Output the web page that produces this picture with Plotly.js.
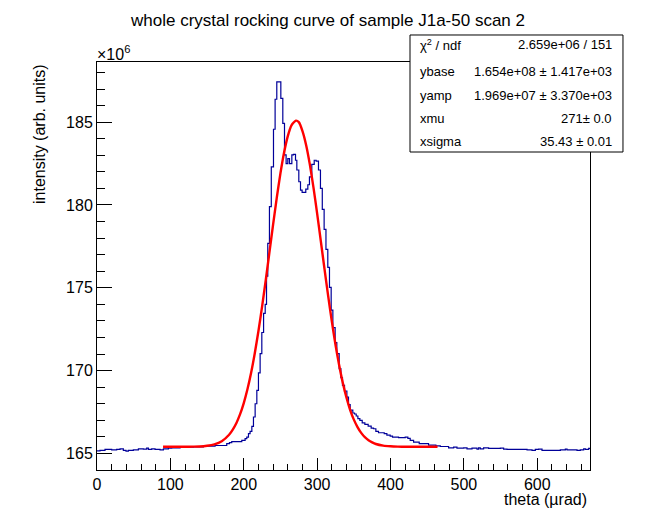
<!DOCTYPE html>
<html>
<head>
<meta charset="utf-8">
<script src="https://cdn.plot.ly/plotly-3.0.1.min.js"></script>
<style>
  body { margin: 0; background: #fff; }
  #myDiv { width: 656px; height: 522px; }
</style>
</head>
<body>
<div id="myDiv"></div>
<script>
// histogram: bin edges (theta, urad) and contents (intensity / 1e6)
var thetaEdges = [
  0, 4.1, 10.9, 20.0, 26.8, 31.4, 35.9, 39.5, 42.7, 49.5, 56.4, 63.2, 67.7, 70.0, 74.5, 79.1,
  85.9, 90.5, 97.3, 101.8, 113.2, 122.3, 131.4, 145.0, 160.9, 176.8, 180.5, 183.6, 197.3,
  201.8, 204.1, 206.4, 208.6, 211.0, 213.2, 215.5, 217.8, 220.0, 222.3, 224.6, 227.0, 229.2,
  231.0, 232.7, 235.0, 237.5, 240.5, 242.7, 245.0, 250.5, 253.2, 255.5, 257.7, 260.0, 262.3,
  265.5, 267.7, 270.5, 272.3, 275.0, 277.3, 279.5, 284.5, 287.3, 289.5, 292.7, 296.0, 298.6,
  301.8, 304.5, 307.0, 309.5, 312.0, 314.5, 316.8, 319.1, 321.4, 324.5, 326.8, 330.0, 332.3,
  334.5, 337.3, 340.5, 342.7, 345.0, 348.6, 350.9, 353.2, 355.5, 358.2, 361.4, 365.0, 369.5,
  373.6, 376.8, 380.0, 383.6, 391.4, 395.0, 399.5, 402.7, 410.9, 420.0, 423.6, 426.8, 431.4,
  439.1, 451.8, 461.8, 467.8, 479.1, 486.0, 490.5, 499.6, 504.2, 511.0, 517.8, 520.0, 522.3,
  526.8, 533.6, 549.6, 554.1, 558.7, 586.0, 592.8, 597.3, 601.8, 606.4, 631.4, 638.2, 640.5,
  654.1, 658.6, 663.2, 665.5, 670.0, 672.0
]
var intensity = [
  165.16, 165.18, 165.24, 165.22, 165.24, 165.28, 165.18, 165.14, 165.18, 165.22, 165.28, 165.26, 165.32, 165.24, 165.28, 165.24,
  165.22, 165.28, 165.32, 165.34, 165.36, 165.38, 165.40, 165.44, 165.48, 165.59, 165.65, 165.71, 165.79,
  165.89, 165.99, 166.19, 166.33, 166.63, 167.20, 168.00, 168.81, 169.86, 171.03, 172.30, 173.45, 174.00,
  175.70, 177.68, 179.90, 182.30, 184.57, 186.38, 187.43, 186.44, 184.93, 183.02, 182.50, 182.80, 182.50,
  183.02, 183.05, 182.70, 182.11, 181.40, 180.90, 180.76, 180.95, 181.22, 181.70, 182.45, 182.70, 182.65,
  182.11, 181.00, 179.73, 178.52, 177.32, 176.23, 175.02, 173.65, 172.60, 171.69, 171.03, 170.12, 169.58,
  169.11, 168.77, 168.40, 167.95, 167.62, 167.44, 167.38, 167.26, 167.10, 167.00, 166.85, 166.75, 166.65,
  166.53, 166.49, 166.33, 166.25, 166.19, 166.11, 166.05, 165.99, 165.95, 165.99, 165.91, 165.79, 165.68,
  165.59, 165.50, 165.46, 165.42, 165.34, 165.38, 165.32, 165.34, 165.28, 165.32, 165.26, 165.34, 165.28,
  165.34, 165.30, 165.32, 165.26, 165.24, 165.22, 165.18, 165.24, 165.26, 165.18, 165.22, 165.26, 165.22,
  165.18, 165.22, 165.28, 165.24, 165.30
]

// fitted gaussian (red curve), sampled points
var fitTheta = [
  90, 100, 110, 120, 130, 140, 150, 160, 170, 180, 185, 190, 195, 200, 205, 210, 215, 220, 225,
  230, 235, 240, 245, 250, 255, 260, 265, 271, 275, 280, 285, 290, 295, 300, 305, 310, 315,
  320, 325, 330, 335, 340, 345, 350, 355, 360, 365, 370, 375, 380, 390, 400, 410, 420, 440, 464
]
var fitIntensity = [
  165.40, 165.40, 165.40, 165.40, 165.41, 165.42, 165.46, 165.55, 165.74, 166.13, 166.44, 166.84, 167.37, 168.04, 168.87, 169.87, 171.05, 172.39, 173.88,
  175.48, 177.15, 178.83, 180.44, 181.92, 183.18, 184.16, 184.81, 185.09, 185.00, 184.46, 183.61, 182.45, 181.05, 179.48, 177.82, 176.14, 174.51,
  172.97, 171.56, 170.32, 169.25, 168.36, 167.62, 167.04, 166.59, 166.24, 165.98, 165.80, 165.67, 165.57, 165.47, 165.43, 165.41, 165.40, 165.40, 165.40
]

// stats box
var statNames = ['χ<sup>2</sup> / ndf', 'ybase', 'yamp', 'xmu', 'xsigma']
var statValues = ['2.659e+06 / 151', '1.654e+08 ± 1.417e+03', '1.969e+07 ± 3.370e+03', '271± 0.0', '35.43 ± 0.01']

var FONT = 'Liberation Sans, Arial, Helvetica, sans-serif'

// histogram drawn as steps: each bin left edge, plus closing right edge
var histY = intensity.concat([intensity[intensity.length - 1]])

var traces = [
  {
    x: thetaEdges, y: histY, type: 'scatter', mode: 'lines',
    line: {shape: 'hv', color: '#000099', width: 1.2},
    hoverinfo: 'skip', showlegend: false
  },
  {
    x: fitTheta, y: fitIntensity, type: 'scatter', mode: 'lines',
    line: {shape: 'spline', smoothing: 0.6, color: '#ff0000', width: 2.4},
    hoverinfo: 'skip', showlegend: false
  }
]

// stats box rows
var rowY = [1.0417, 0.9779, 0.9179, 0.8620, 0.8047]
var annotations = []
for (var i = 0; i < statNames.length; i++) {
  annotations.push({
    xref: 'paper', yref: 'paper', x: 0.6511, y: rowY[i], xanchor: 'left', yanchor: 'middle',
    text: statNames[i], showarrow: false, font: {family: FONT, size: 13, color: 'black'}
  })
  annotations.push({
    xref: 'paper', yref: 'paper', x: 1.0487, y: rowY[i], xanchor: 'right', yanchor: 'middle',
    text: statValues[i], showarrow: false, font: {family: FONT, size: 13, color: 'black'}
  })
}
// axis titles and exponent label, ROOT style
annotations.push({
  xref: 'paper', yref: 'paper', x: 0.998, y: -0.073, xanchor: 'right', yanchor: 'middle',
  text: 'theta (µrad)', showarrow: false, font: {family: FONT, size: 16, color: 'black'}
})
annotations.push({
  xref: 'paper', yref: 'paper', x: -0.1176, y: 1.0, xanchor: 'center', yanchor: 'top',
  text: 'intensity (arb. units)', textangle: -90, showarrow: false,
  font: {family: FONT, size: 16, color: 'black'}
})
annotations.push({
  xref: 'paper', yref: 'paper', x: -0.004, y: 1.022, xanchor: 'left', yanchor: 'middle',
  text: '×10<sup>6</sup>', showarrow: false, font: {family: FONT, size: 16, color: 'black'}
})

var layout = {
  width: 656,
  height: 522,
  margin: {l: 97, r: 66, t: 62, b: 52},
  paper_bgcolor: 'white',
  plot_bgcolor: 'white',
  font: {family: FONT, size: 16, color: 'black'},
  title: {
    text: 'whole crystal rocking curve of sample J1a-50 scan 2',
    x: 0.5, xref: 'container', xanchor: 'center',
    y: 0.962, yref: 'container', yanchor: 'middle',
    font: {family: FONT, size: 17, color: 'black'}
  },
  xaxis: {
    range: [0, 671.8],
    tick0: 0, dtick: 100,
    ticks: 'inside', ticklen: 12, tickwidth: 1, tickcolor: 'black',
    minor: {dtick: 20, ticks: 'inside', ticklen: 6, tickwidth: 1, tickcolor: 'black', showgrid: false},
    showline: true, mirror: true, linecolor: 'black', linewidth: 1,
    showgrid: false, zeroline: false,
    tickfont: {family: FONT, size: 16, color: 'black'}
  },
  yaxis: {
    range: [164.0, 188.63],
    tick0: 165, dtick: 5,
    ticks: 'inside', ticklen: 15, tickwidth: 1, tickcolor: 'black',
    minor: {dtick: 1, ticks: 'inside', ticklen: 8, tickwidth: 1, tickcolor: 'black', showgrid: false},
    showline: true, mirror: true, linecolor: 'black', linewidth: 1,
    showgrid: false, zeroline: false,
    tickfont: {family: FONT, size: 16, color: 'black'}
  },
  shapes: [
    {
      type: 'rect', xref: 'paper', yref: 'paper',
      x0: 0.6349, x1: 1.0669, y0: 0.7794, y1: 1.0662,
      fillcolor: 'white', line: {color: 'black', width: 1}, layer: 'above'
    }
  ],
  annotations: annotations
}

Plotly.newPlot('myDiv', traces, layout, {displayModeBar: false, staticPlot: true})
</script>
</body>
</html>
